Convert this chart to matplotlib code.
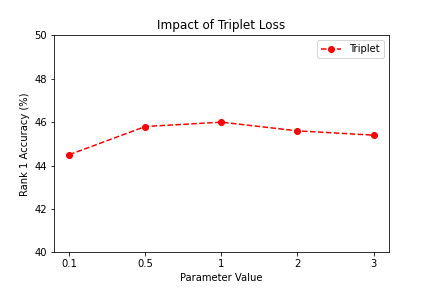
import matplotlib
matplotlib.use('Agg')
import matplotlib.pyplot as plt

# parameter values and rank-1 accuracy
params = ['0.1', '0.5', '1', '2', '3']
accuracy = [44.5, 45.8, 46.0, 45.6, 45.4]

fig, ax = plt.subplots(figsize=(6, 4), dpi=72)
fig.subplots_adjust(left=0.125, right=0.9, bottom=0.124, top=0.877)

ax.plot(params, accuracy, color='red', linestyle='--', marker='o', label='Triplet')
ax.set_ylim(40, 50)
ax.set_xlabel('Parameter Value')
ax.set_ylabel('Rank 1 Accuracy (%)')
ax.set_title('Impact of Triplet Loss')
ax.legend(loc='upper right')

fig.savefig('out.png', dpi=72)
